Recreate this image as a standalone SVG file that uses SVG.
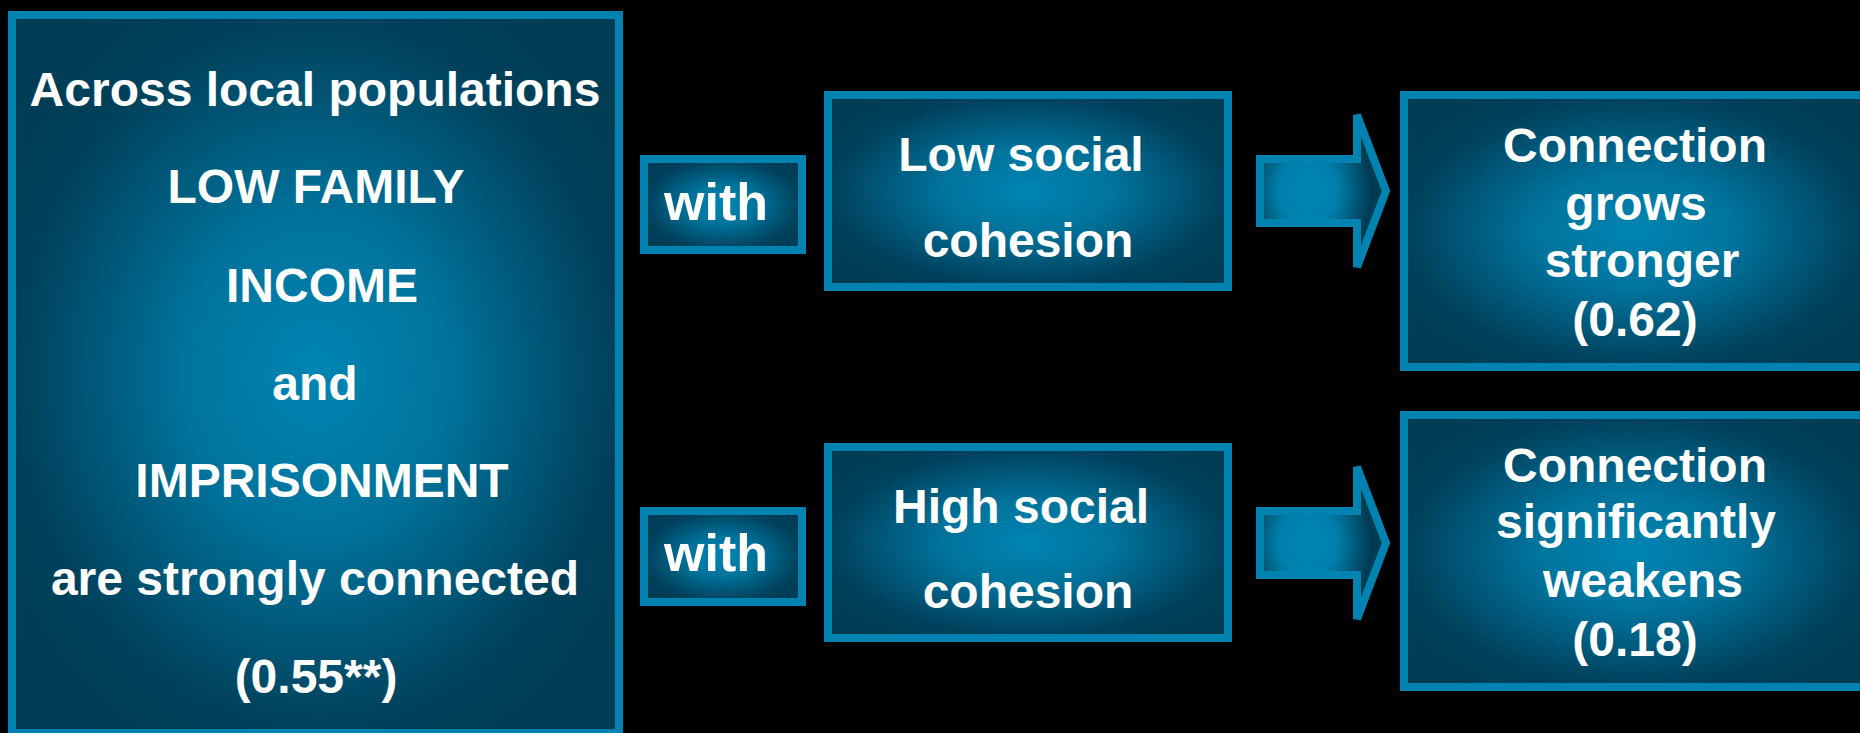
<svg xmlns="http://www.w3.org/2000/svg" width="1860" height="733" viewBox="0 0 1860 733">
<defs>
<radialGradient id="boxGrad" cx="0.5" cy="0.5" r="0.62">
<stop offset="0" stop-color="#0085b3"/>
<stop offset="0.35" stop-color="#00739c"/>
<stop offset="0.8" stop-color="#00405a"/>
<stop offset="1" stop-color="#003d55"/>
</radialGradient>
<radialGradient id="arrowGrad" cx="0.38" cy="0.5" r="0.5" fx="0.38" fy="0.5">
<stop offset="0" stop-color="#0085b3"/>
<stop offset="0.45" stop-color="#0080ac"/>
<stop offset="1" stop-color="#003d55"/>
</radialGradient>
<style>
.box{fill:url(#boxGrad);stroke:#0083b0;stroke-width:8}
.arr{fill:url(#arrowGrad);stroke:#0083b0;stroke-width:8;stroke-linejoin:miter}
text{font-family:"Liberation Sans",Arial,sans-serif;font-weight:bold;font-size:48px;fill:#ffffff;text-anchor:middle}
.w{font-size:52px}
</style>
</defs>
<rect width="1860" height="733" fill="#000000"/>
<g id="connectors">
<polygon class="arr" points="1260,159 1357,159 1357,115 1386,191 1357,267 1357,223 1260,223"/>
<polygon class="arr" points="1260,511 1357,511 1357,467 1386,543 1357,619 1357,575 1260,575"/>
</g>
<g id="node-left">
<rect class="box" x="12" y="15" width="607" height="718"/>
<text x="315" y="106">Across local populations</text>
<text x="316" y="203">LOW FAMILY</text>
<text x="322" y="302">INCOME</text>
<text x="315" y="400">and</text>
<text x="322" y="497">IMPRISONMENT</text>
<text x="315" y="595">are strongly connected</text>
<text x="316" y="693">(0.55**)</text>
</g>
<g id="node-with-top">
<rect class="box" x="644" y="159" width="158" height="91"/>
<text class="w" x="716" y="220">with</text>
</g>
<g id="node-with-bottom">
<rect class="box" x="644" y="511" width="158" height="91"/>
<text class="w" x="716" y="571">with</text>
</g>
<g id="node-low">
<rect class="box" x="828" y="95" width="400" height="192"/>
<text x="1021" y="171">Low social</text>
<text x="1028" y="257">cohesion</text>
</g>
<g id="node-high">
<rect class="box" x="828" y="447" width="400" height="191"/>
<text x="1021" y="523">High social</text>
<text x="1028" y="608">cohesion</text>
</g>
<g id="node-stronger">
<rect class="box" x="1404" y="95" width="462" height="272"/>
<text x="1635" y="162">Connection</text>
<text x="1636" y="220">grows</text>
<text x="1642" y="277">stronger</text>
<text x="1635" y="336">(0.62)</text>
</g>
<g id="node-weakens">
<rect class="box" x="1404" y="415" width="462" height="272"/>
<text x="1635" y="482">Connection</text>
<text x="1636" y="538">significantly</text>
<text x="1643" y="597">weakens</text>
<text x="1635" y="656">(0.18)</text>
</g>
</svg>
